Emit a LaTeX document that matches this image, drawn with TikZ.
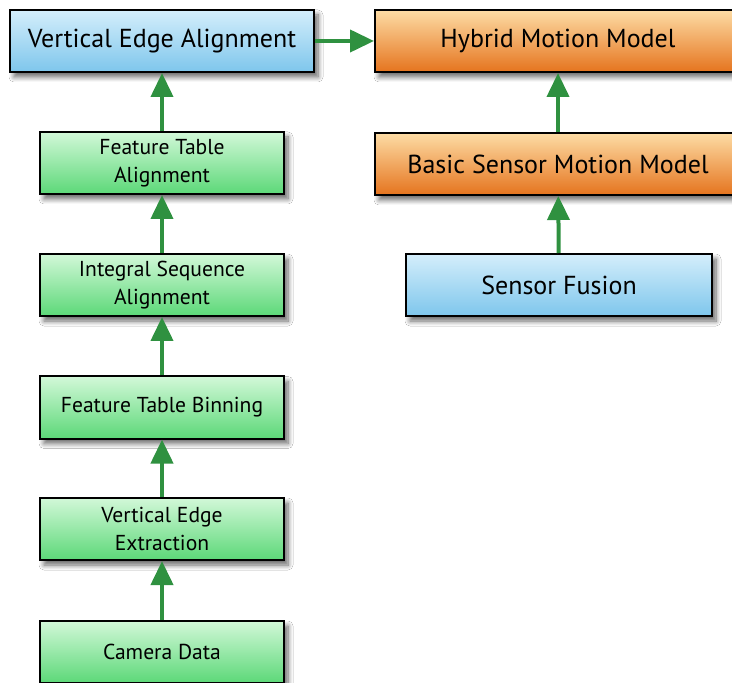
\documentclass[tikz,border=0pt]{standalone}
\usepackage{fontspec}
\setmainfont{PT Sans}
\usetikzlibrary{shadows.blur,arrows.meta}
\definecolor{bluetop}{HTML}{D4EEFB}
\definecolor{bluebot}{HTML}{7EC6EC}
\definecolor{greentop}{HTML}{D2F8D8}
\definecolor{greenbot}{HTML}{5CD878}
\definecolor{orangetop}{HTML}{FDDCA5}
\definecolor{orangebot}{HTML}{E5741E}
\definecolor{arrowgreen}{HTML}{2F9140}
\begin{document}
\begin{tikzpicture}[x=0.5pt,y=-0.5pt,
	box/.style={draw=black,line width=1pt,align=center,inner sep=0pt,minimum height=31pt,
		blur shadow={shadow xshift=2pt,shadow yshift=-2.5pt,shadow blur steps=8,shadow blur radius=2.5pt,shadow opacity=60}},
	bigbox/.style={box,font=\fontsize{13}{15}\selectfont},
	smallbox/.style={box,minimum width=122pt,top color=greentop,bottom color=greenbot,font=\fontsize{10.8}{14}\selectfont},
	bluebox/.style={bigbox,top color=bluetop,bottom color=bluebot},
	orangebox/.style={bigbox,minimum width=183pt,top color=orangetop,bottom color=orangebot},
	link/.style={draw=arrowgreen,line width=2pt,-{Triangle[length=12pt,width=11pt,fill=arrowgreen]}}]
	\clip (0,0) rectangle (732,683);
	\fill[white] (0,0) rectangle (732,683);
	% left column
	\node[bluebox,minimum width=152pt] (align) at (162,41) {Vertical Edge Alignment};
	\node[smallbox] (table) at (162,163) {Feature Table\\Alignment};
	\node[smallbox] (integral) at (162,285) {Integral Sequence\\Alignment};
	\node[smallbox] (binning) at (162,407.5) {Feature Table Binning};
	\node[smallbox] (extract) at (162,529) {Vertical Edge\\Extraction};
	\node[smallbox] (camera) at (162,652) {Camera Data};
	% right column
	\node[orangebox] (hybrid) at (558,41) {Hybrid Motion Model};
	\node[orangebox] (basic) at (558,164) {Basic Sensor Motion Model};
	\node[bluebox,minimum width=153pt] (fusion) at (559,285) {Sensor Fusion};
	% arrows
	\draw[link] (camera) -- (extract);
	\draw[link] (extract) -- (binning);
	\draw[link] (binning) -- (integral);
	\draw[link] (integral) -- (table);
	\draw[link] (table) -- (align);
	\draw[link] (align) -- (hybrid);
	\draw[link] (fusion) -- (basic);
	\draw[link] (basic) -- (hybrid);
\end{tikzpicture}
\end{document}
